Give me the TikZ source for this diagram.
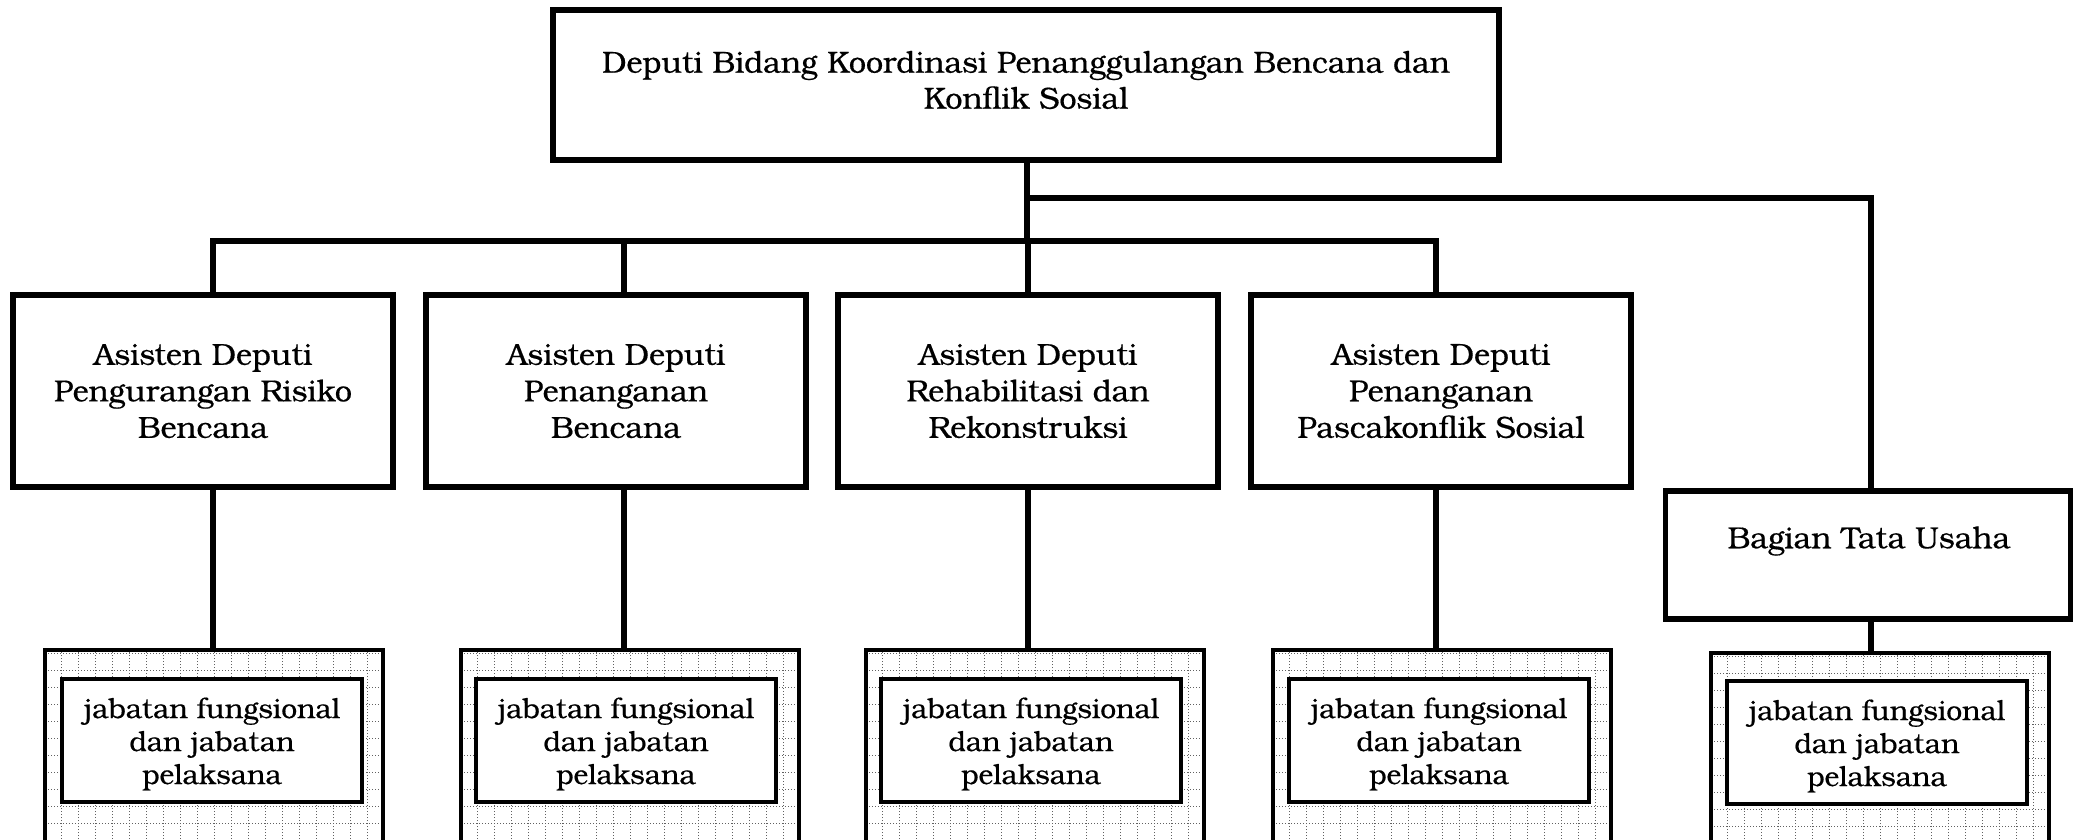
\documentclass[tikz,border=0pt]{standalone}
\usepackage{fontspec}
\setmainfont{TeX Gyre Bonum}[FakeBold=0.5]
\begin{document}
\begin{tikzpicture}[x=1pt,y=-1pt,
  conn/.style={line width=6pt, line cap=rect},
  frame/.style={draw, line width=5.5pt, fill=white, align=center, inner sep=0pt},
  label/.style={align=center, inner sep=0pt, font=\fontsize{30.5}{36}\selectfont},
  smalllabel/.style={align=center, inner sep=0pt, font=\fontsize{28}{33}\selectfont},
  topbox/.style={frame, minimum width=946pt, minimum height=150pt},
  asbox/.style={frame, minimum width=380pt, minimum height=192pt, font=\fontsize{30.5}{36.5}\selectfont},
  tubox/.style={frame, minimum width=405pt, minimum height=128pt},
  dotgrid/.style={black!62, line width=1pt, dash pattern=on 1.2pt off 1.8pt},
  fgouter/.style={draw, line width=4pt, fill=white, minimum width=338pt, minimum height=210pt, inner sep=0pt,
    path picture={\draw[dotgrid, step=17pt] (path picture bounding box.south west) grid (path picture bounding box.north east);}},
  fginner/.style={draw, line width=4pt, fill=white, minimum width=300pt, minimum height=123pt, inner sep=0pt}
]
\useasboundingbox (0,0) rectangle (2079,839);

% head of the deputy office
\node[topbox] (dep) at (1026,85) {};
\node[label] (deptext) at (1026,80) {Deputi Bidang Koordinasi Penanggulangan Bencana dan\\Konflik Sosial};

% assistant deputies
\node[asbox] (a1) at (203,391)  {Asisten Deputi\\Pengurangan Risiko\\Bencana};
\node[asbox] (a2) at (616,391)  {Asisten Deputi\\Penanganan\\Bencana};
\node[asbox] (a3) at (1028,391) {Asisten Deputi\\Rehabilitasi dan\\Rekonstruksi};
\node[asbox] (a4) at (1441,391) {Asisten Deputi\\Penanganan\\Pascakonflik Sosial};

% administration unit
\node[tubox] (tu) at (1868,555) {};
\node[label] (tutext) at (1869,541) {Bagian Tata Usaha};

% functional staff groups: dotted outer frame with an inner white box
\node[fgouter] (o1) at (214,755)  {};
\node[fgouter] (o2) at (630,755)  {};
\node[fgouter] (o3) at (1035,755) {};
\node[fgouter] (o4) at (1442,755) {};
\node[fgouter] (o5) at (1880,758) {};
\foreach \i/\x/\y in {1/212/740, 2/626/740, 3/1031/740, 4/1439/740, 5/1877/742} {
  \node[fginner] (f\i) at (\x,\y) {};
  \node[smalllabel] (t\i) at (\x,\y+4) {jabatan fungsional\\dan jabatan\\pelaksana};
}

% junction points of the tree
\coordinate (j0) at (1027,241);
\coordinate (j1) at (213,241);
\coordinate (j2) at (624,241);
\coordinate (j3) at (1028,241);
\coordinate (j4) at (1436,241);
\coordinate (br) at (1027,198);
\coordinate (bt) at (1871,198);

% connectors
\draw[conn] (dep.south -| j0) -- (j0);
\draw[conn] (j1) -- (j4);
\draw[conn] (br) -- (bt) -- (bt |- tu.north);
\foreach \i in {1,2,3,4} {
  \draw[conn] (j\i) -- (j\i |- a\i.north);
  \draw[conn] (j\i |- a\i.south) -- (j\i |- o\i.north);
}
\draw[conn] (bt |- tu.south) -- (bt |- o5.north);
\end{tikzpicture}
\end{document}
